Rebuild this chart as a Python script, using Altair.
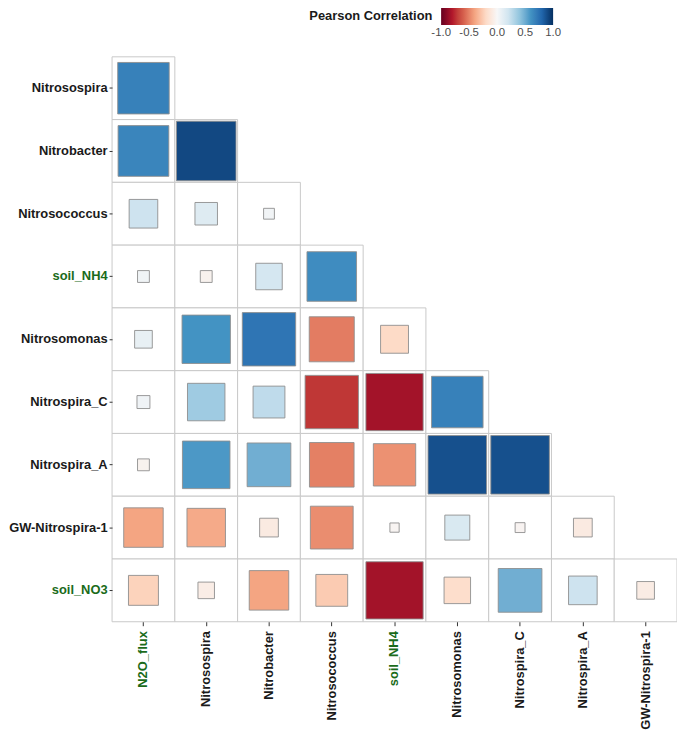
import altair as alt
import pandas as pd

cols = ["N2O_flux", "Nitrosospira", "Nitrobacter", "Nitrosococcus", "soil_NH4",
        "Nitrosomonas", "Nitrospira_C", "Nitrospira_A", "GW-Nitrospira-1"]
rows = ["Nitrosospira", "Nitrobacter", "Nitrosococcus", "soil_NH4", "Nitrosomonas",
        "Nitrospira_C", "Nitrospira_A", "GW-Nitrospira-1", "soil_NO3"]

# Pearson correlations, lower triangle, one list per row (left to right)
r_nitrosospira = [0.68]
r_nitrobacter = [0.66, 0.91]
r_nitrosococcus = [0.21, 0.13, 0.03]
r_soil_nh4 = [0.036, -0.036, 0.18, 0.63]
r_nitrosomonas = [0.08, 0.60, 0.73, -0.52, -0.20]
r_nitrospira_c = [0.043, 0.36, 0.26, -0.73, -0.84, 0.68]
r_nitrospira_a = [-0.036, 0.58, 0.49, -0.51, -0.46, 0.88, 0.88]
r_gw_nitrospira = [-0.40, -0.38, -0.09, -0.47, -0.022, 0.16, -0.025, -0.09]
r_soil_no3 = [-0.23, -0.07, -0.40, -0.26, -0.84, -0.18, 0.49, 0.21, -0.08]

corr_rows = [r_nitrosospira, r_nitrobacter, r_nitrosococcus, r_soil_nh4, r_nitrosomonas,
             r_nitrospira_c, r_nitrospira_a, r_gw_nitrospira, r_soil_no3]

green_vars = ["N2O_flux", "soil_NH4", "soil_NO3"]

# RdBu (11 classes) colour stops
rdbu = ["#67001f", "#b2182b", "#d6604d", "#f4a582", "#fddbc7", "#f7f7f7",
        "#d1e5f0", "#92c5de", "#4393c3", "#2166ac", "#053061"]
rdbu_stops = [-1.001, -0.8, -0.6, -0.4, -0.2, 0.0, 0.2, 0.4, 0.6, 0.8, 1.001]
legend_values = [-1.0, -0.5, 0.0, 0.5, 1.0]

records = []
for rname, vals in zip(rows, corr_rows):
    for cname, v in zip(cols, vals):
        records.append({"row": rname, "col": cname, "r": v, "absr": abs(v)})
df = pd.DataFrame(records)

test = " || ".join([f"datum.value == '{g}'" for g in green_vars])
label_color = {"condition": {"test": test, "value": "#1a6b1a"}, "value": "#1a1a1a"}

xscale = alt.Scale(type="band", paddingInner=0, paddingOuter=0)
yscale = alt.Scale(type="band", paddingInner=0, paddingOuter=0)

x_enc = alt.X("col:N", sort=cols, scale=xscale, title=None,
              axis=alt.Axis(labelAngle=-90, labelFontWeight="bold", labelFontSize=13,
                            labelFont="Liberation Sans", labelColor=label_color,
                            domain=False, ticks=True, tickSize=4, tickColor="#333333",
                            labelPadding=5, grid=False))
y_enc = alt.Y("row:N", sort=rows, scale=yscale, title=None,
              axis=alt.Axis(labelFontWeight="bold", labelFontSize=13,
                            labelFont="Liberation Sans", labelColor=label_color,
                            domain=False, ticks=True, tickSize=3, tickColor="#333333",
                            labelPadding=2, grid=False))

base = alt.Chart(df)

tiles = base.mark_rect(fill="white", stroke="#c8c8c8", strokeWidth=1).encode(
    x=x_enc, y=y_enc
)

squares = base.mark_square(filled=True, stroke="#8f8f8f", strokeWidth=0.9, opacity=1).encode(
    x=x_enc, y=y_enc,
    size=alt.Size("absr:Q", scale=alt.Scale(domain=[0, 1], range=[0, 3969]), legend=None),
    color=alt.Color("r:Q",
                    scale=alt.Scale(domain=rdbu_stops, range=rdbu, interpolate="lab"),
                    legend=alt.Legend(title="Pearson Correlation", orient="none",
                                      direction="horizontal", titleOrient="left",
                                      legendX=199, legendY=-50,
                                      gradientLength=113, gradientThickness=18,
                                      gradientStrokeWidth=0,
                                      values=legend_values,
                                      labelExpr="replace(format(datum.value, '.1f'), '\u2212', '-')",
                                      labelOverlap=False,
                                      titleFontSize=13, titleFont="Liberation Sans",
                                      titleFontWeight="bold", titleColor="#1a1a1a",
                                      titlePadding=8,
                                      labelFontSize=11.5, labelFont="Liberation Sans",
                                      labelColor="#4d4d4d")),
)

chart = alt.layer(tiles, squares).properties(
    width=570, height=570, autosize="none",
    padding={"left": 105, "top": 46, "right": 0, "bottom": 110}
).configure_view(strokeWidth=0)

chart.save("out.html", embed_options={"renderer": "svg", "actions": False})
